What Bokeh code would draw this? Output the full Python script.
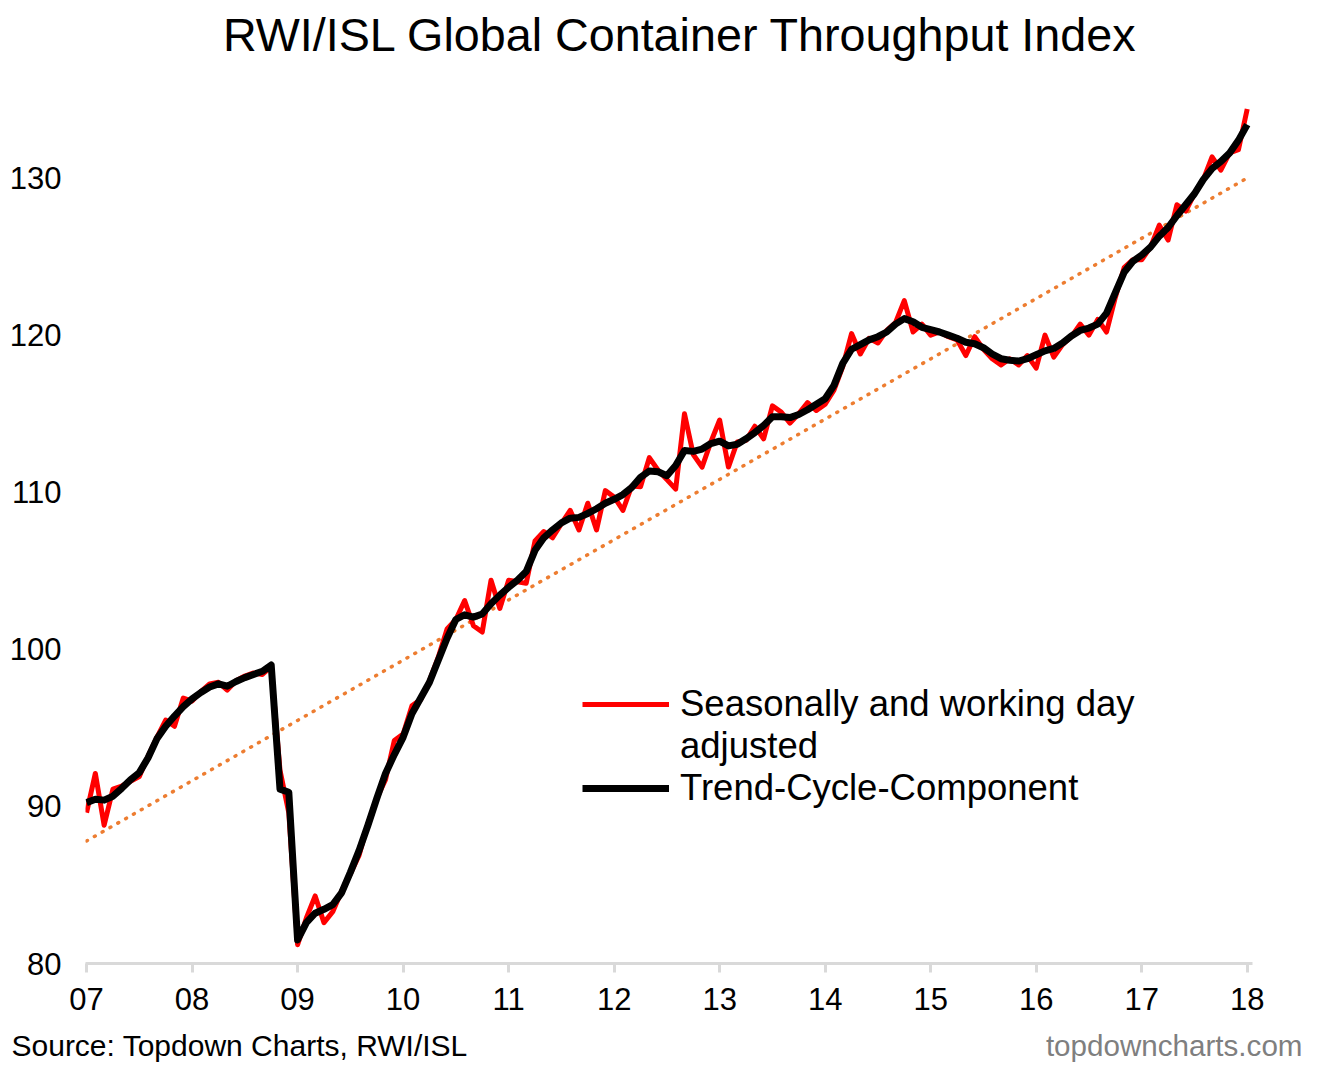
from bokeh.core.properties import value
from bokeh.embed import file_html
from bokeh.layouts import column
from bokeh.models import ColumnDataSource, FixedTicker, Legend, LegendItem, Range1d
from bokeh.plotting import figure
from bokeh.resources import INLINE

FONT = "Liberation Sans"
W = 1304

# monthly data, Jan 2007 .. Jan 2018
start_year = 2007
year_ticks = list(range(2007, 2019))
year_labels = ["07", "08", "09", "10", "11", "12", "13", "14", "15", "16", "17", "18"]
value_ticks = [80, 90, 100, 110, 120, 130]

sa_adjusted = [
    89.6, 92.1, 88.8, 91.1, 91.3, 91.6, 91.9, 93.2, 94.4, 95.5, 95.1, 96.9,
    96.7, 97.3, 97.8, 97.9, 97.4, 98.0, 98.3, 98.5, 98.4, 98.9, 92.3, 89.6,
    81.2, 82.9, 84.3, 82.6, 83.3, 84.6, 85.7, 86.9, 88.9, 90.5, 91.7, 94.2,
    94.6, 96.4, 96.8, 98.0, 99.5, 101.3, 101.9, 103.1, 101.5, 101.1, 104.4, 102.6,
    104.4, 104.3, 104.2, 106.9, 107.5, 107.1, 108.0, 108.85, 107.6, 109.3, 107.6, 110.1,
    109.7, 108.85, 110.4, 110.35, 112.2, 111.4, 110.8, 110.2, 115.0, 112.4, 111.6, 113.2,
    114.6, 111.6, 113.2, 113.3, 114.2, 113.4, 115.5, 115.1, 114.4, 115.0, 115.7, 115.2,
    115.6, 116.5, 118.0, 120.1, 118.8, 119.8, 119.5, 120.3, 120.8, 122.2, 120.2, 120.7,
    120.0, 120.2, 119.9, 119.7, 118.7, 119.9, 119.1, 118.5, 118.1, 118.5, 118.1, 118.7,
    117.9, 120.0, 118.6, 119.4, 119.9, 120.7, 120.0, 121.0, 120.2, 122.4, 124.3, 124.8,
    124.8, 125.6, 127.0, 126.05, 128.3, 127.9, 129.0, 129.9, 131.35, 130.5, 131.6, 131.8,
    134.4,
]

trend_cycle = [
    90.24, 90.45, 90.4, 90.65, 91.15, 91.7, 92.15, 93.1, 94.3, 95.1, 95.75, 96.35,
    96.85, 97.25, 97.6, 97.8, 97.65, 97.95, 98.2, 98.4, 98.6, 99.0, 91.1, 90.9,
    81.5, 82.6, 83.2, 83.45, 83.75, 84.5, 85.8, 87.2, 88.8, 90.5, 92.1, 93.3,
    94.4, 95.9, 96.9, 97.9, 99.3, 100.7, 101.9, 102.2, 102.05, 102.25, 102.9, 103.45,
    103.95, 104.4, 104.95, 106.3, 107.1, 107.6, 108.05, 108.35, 108.4, 108.65, 108.95, 109.3,
    109.55, 109.85, 110.3, 110.95, 111.35, 111.3, 111.05, 111.7, 112.65, 112.6, 112.75, 113.1,
    113.25, 112.95, 113.05, 113.4, 113.8, 114.25, 114.8, 114.8, 114.75, 114.95, 115.25, 115.6,
    115.95, 116.8, 118.2, 119.1, 119.4, 119.7, 119.9, 120.2, 120.7, 121.05, 120.85, 120.5,
    120.35, 120.2, 120.0, 119.8, 119.55, 119.45, 119.2, 118.8, 118.5, 118.4, 118.35, 118.5,
    118.75, 119.0, 119.15, 119.5, 119.95, 120.3, 120.45, 120.7, 121.4, 122.7, 124.0, 124.7,
    125.1, 125.6, 126.3, 126.85, 127.6, 128.3, 129.0, 129.9, 130.6, 131.05, 131.6, 132.4,
    133.4,
]

# linear trend line of the adjusted series (end points)
linear_years = [2007, 2018]
linear_values = [87.8, 130.0]

title_text = "RWI/ISL Global Container Throughput Index"
source_text = "Source: Topdown Charts, RWI/ISL"
brand_text = "topdowncharts.com"


def text_strip(height):
    # a frameless strip whose data units are pixels, used for the texts
    f = figure(
        width=W, height=height,
        x_range=Range1d(0, W), y_range=Range1d(0, height),
        output_backend="svg", toolbar_location=None,
        min_border=0, outline_line_color=None, frame_align=False,
        background_fill_color="white", border_fill_color="white",
    )
    f.axis.visible = False
    f.grid.visible = False
    return f


head = text_strip(77)
head.text(x=[680], y=[43], text=[title_text], text_align="center", text_baseline="middle",
          text_font=value(FONT), text_font_size="46.7px", text_color="black")

months = [start_year + i / 12 for i in range(len(sa_adjusted))]
src = ColumnDataSource({"x": months, "sa": sa_adjusted, "tc": trend_cycle})
src_lin = ColumnDataSource({"x": linear_years, "y": linear_values})

p = figure(
    width=W,
    height=947,
    x_range=Range1d(start=2006.99, end=2018.05),
    y_range=Range1d(start=80, end=135),
    output_backend="svg",
    toolbar_location=None,
    min_border_left=85,
    min_border_right=52,
    min_border_top=22,
    min_border_bottom=61,
    outline_line_color=None,
    frame_align=False,
    background_fill_color="white",
    border_fill_color="white",
)
p.grid.visible = False

p.line("x", "y", source=src_lin, line_color="#ed7d31", line_width=3.5,
       line_dash="1 8", line_cap="round")
r_sa = p.line("x", "sa", source=src, line_color="#ff0000", line_width=5, line_join="round")
r_tc = p.line("x", "tc", source=src, line_color="black", line_width=7, line_join="round")
# invisible twin, only holds the second line of the first legend label
r_blank = p.line("x", "sa", source=src, line_alpha=0)

xa = p.xaxis[0]
xa.ticker = FixedTicker(ticks=year_ticks)
xa.major_label_overrides = {yr: lab for yr, lab in zip(year_ticks, year_labels)}
xa.minor_tick_line_color = None
xa.axis_line_color = "#d9d9d9"
xa.axis_line_width = 3
xa.major_tick_line_color = "#d9d9d9"
xa.major_tick_line_width = 3
xa.major_tick_in = 0
xa.major_tick_out = 9
xa.major_label_standoff = 15
xa.major_label_text_font = FONT
xa.major_label_text_font_size = "31px"
xa.major_label_text_color = "black"

ya = p.yaxis[0]
ya.ticker = FixedTicker(ticks=value_ticks)
ya.axis_line_color = None
ya.major_tick_line_color = None
ya.minor_tick_line_color = None
ya.major_label_standoff = 18
ya.major_label_text_font = FONT
ya.major_label_text_font_size = "31px"
ya.major_label_text_color = "black"

legend = Legend(
    items=[
        LegendItem(label="Seasonally and working day", renderers=[r_sa]),
        LegendItem(label="adjusted", renderers=[r_blank]),
        LegendItem(label="Trend-Cycle-Component", renderers=[r_tc]),
    ],
    location=(497, 154),
    glyph_width=87,
    glyph_height=42,
    label_height=42,
    label_standoff=11,
    label_text_font=FONT,
    label_text_font_size="36.5px",
    label_text_color="black",
    border_line_color=None,
    background_fill_alpha=0,
    padding=0,
    margin=0,
    spacing=0,
)
p.add_layout(legend)

foot = text_strip(42)
foot.text(x=[11], y=[21], text=[source_text], text_align="left", text_baseline="middle",
          text_font=value(FONT), text_font_size="30px", text_color="black")
foot.text(x=[1302], y=[21], text=[brand_text], text_align="right", text_baseline="middle",
          text_font=value(FONT), text_font_size="29.6px", text_color="#7f7f7f")

layout = column(head, p, foot, spacing=0)
open("out.html", "w").write(file_html(layout, INLINE))
